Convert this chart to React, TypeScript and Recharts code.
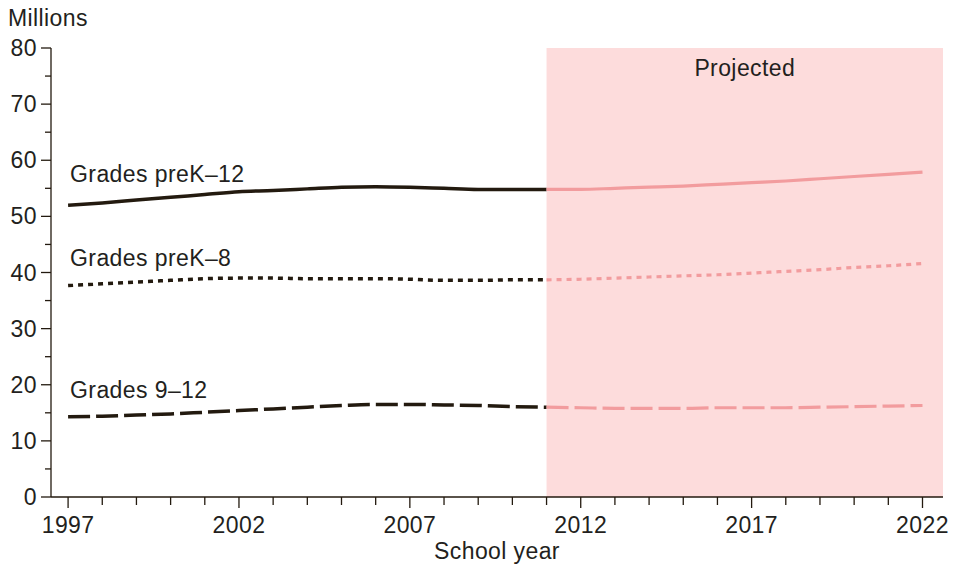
import {
  ComposedChart,
  Line,
  XAxis,
  YAxis,
  ReferenceArea,
  ReferenceDot,
} from 'recharts';

const YEARS = [
  1997, 1998, 1999, 2000, 2001, 2002, 2003, 2004, 2005, 2006, 2007, 2008, 2009,
  2010, 2011, 2012, 2013, 2014, 2015, 2016, 2017, 2018, 2019, 2020, 2021, 2022,
];
const PREK_12 = [
  52.0, 52.4, 52.9, 53.4, 53.9, 54.4, 54.6, 54.9, 55.2, 55.3, 55.2, 55.0, 54.8,
  54.8, 54.8, 54.8, 55.0, 55.2, 55.4, 55.7, 56.0, 56.3, 56.7, 57.1, 57.5, 57.9,
];
const PREK_8 = [
  37.7, 38.0, 38.3, 38.6, 38.9, 39.0, 39.0, 38.9, 38.9, 38.9, 38.8, 38.6, 38.6,
  38.7, 38.7, 38.8, 39.0, 39.2, 39.4, 39.6, 39.9, 40.2, 40.5, 40.9, 41.2, 41.6,
];
const GRADES_9_12 = [
  14.3, 14.4, 14.6, 14.8, 15.1, 15.4, 15.7, 16.0, 16.3, 16.5, 16.5, 16.4, 16.3,
  16.1, 16.0, 15.9, 15.8, 15.8, 15.8, 15.9, 15.9, 15.9, 16.0, 16.1, 16.2, 16.3,
];
const PROJECTION_START = 2011;
const X_DOMAIN = [1996.5, 2022.6];
const Y_TICKS = [0, 5, 10, 15, 20, 25, 30, 35, 40, 45, 50, 55, 60, 65, 70, 75, 80];

const DARK = '#231a0f';
const PINK = '#f29c9e';
const SHADE = '#fddcdc';
const TEXT = '#231f20';
const FS = 23;
const LS = 0.4;

const rows = YEARS.map((year, i) => ({
  year,
  k12: year <= PROJECTION_START ? PREK_12[i] : null,
  k12p: year >= PROJECTION_START ? PREK_12[i] : null,
  k8: year <= PROJECTION_START ? PREK_8[i] : null,
  k8p: year >= PROJECTION_START ? PREK_8[i] : null,
  hs: year <= PROJECTION_START ? GRADES_9_12[i] : null,
  hsp: year >= PROJECTION_START ? GRADES_9_12[i] : null,
}));

function YTick({ x, y, payload }: any) {
  const major = payload.value % 10 === 0;
  return (
    <g>
      <line x1={x} y1={y} x2={x - (major ? 10 : 6)} y2={y} stroke={DARK} strokeWidth={1.3} />
      {major && (
        <text x={x - 14} y={y} dy={8} textAnchor="end" fontSize={FS} letterSpacing={LS} fill={TEXT}>
          {payload.value}
        </text>
      )}
    </g>
  );
}

function XTick({ x, y, payload }: any) {
  const major = (payload.value - 1997) % 5 === 0;
  return (
    <g>
      <line x1={x} y1={y} x2={x} y2={y + (major ? 11 : 8)} stroke={DARK} strokeWidth={1.3} />
      {major && (
        <text x={x} y={y} dy={36} textAnchor="middle" fontSize={FS} letterSpacing={LS} fill={TEXT}>
          {payload.value}
        </text>
      )}
    </g>
  );
}

const seriesLabel = (value: string) => ({
  value,
  position: 'right' as const,
  offset: 2,
  fontSize: FS,
  letterSpacing: LS,
  fill: TEXT,
});

export default function App() {
  return (
    <div
      style={{
        position: 'relative',
        width: 954,
        height: 559,
        fontFamily: '"Liberation Sans", Arial, sans-serif',
        color: TEXT,
      }}
    >
      <span
        style={{
          position: 'absolute',
          left: 0,
          top: -3,
          zIndex: 1,
          fontSize: FS,
          letterSpacing: LS,
          lineHeight: '26px',
        }}
      >
        Millions
      </span>
      <ComposedChart
        width={954}
        height={559}
        data={rows}
        margin={{ top: 40, right: 19, left: 0, bottom: 2 }}
      >
        <ReferenceArea
          x1={PROJECTION_START}
          x2={X_DOMAIN[1]}
          y1={0}
          y2={80}
          fill={SHADE}
          fillOpacity={1}
          stroke="none"
          label={{ value: 'Projected', position: 'insideTop', offset: 12, fontSize: FS, letterSpacing: LS, fill: TEXT }}
        />
        <XAxis
          dataKey="year"
          type="number"
          domain={X_DOMAIN}
          allowDataOverflow
          ticks={YEARS}
          interval={0}
          height={68}
          tickSize={0}
          tickMargin={0}
          tickLine={false}
          tick={<XTick />}
          axisLine={{ stroke: DARK, strokeWidth: 1.3 }}
          label={{ value: 'School year', position: 'insideBottom', offset: 6, fontSize: FS, letterSpacing: LS, fill: TEXT }}
        />
        <YAxis
          type="number"
          domain={[0, 80]}
          ticks={Y_TICKS}
          interval={0}
          width={43}
          tickSize={0}
          tickMargin={0}
          tickLine={false}
          tick={<YTick />}
          axisLine={{ stroke: DARK, strokeWidth: 1.3 }}
        />
        <Line type="monotone" dataKey="k12" stroke={DARK} strokeWidth={3.5} dot={false} isAnimationActive={false} />
        <Line type="monotone" dataKey="k8" stroke={DARK} strokeWidth={3.5} strokeDasharray="5 5" dot={false} isAnimationActive={false} />
        <Line type="monotone" dataKey="hs" stroke={DARK} strokeWidth={3.5} strokeDasharray="22 6" dot={false} isAnimationActive={false} />
        <Line type="monotone" dataKey="k12p" stroke={PINK} strokeWidth={3.2} dot={false} isAnimationActive={false} />
        <Line type="monotone" dataKey="k8p" stroke={PINK} strokeWidth={3.2} strokeDasharray="5 5" dot={false} isAnimationActive={false} />
        <Line type="monotone" dataKey="hsp" stroke={PINK} strokeWidth={3.2} strokeDasharray="22 6" dot={false} isAnimationActive={false} />
        <ReferenceDot x={1997} y={57.6} r={0} fill="none" stroke="none" label={seriesLabel('Grades preK–12')} />
        <ReferenceDot x={1997} y={42.6} r={0} fill="none" stroke="none" label={seriesLabel('Grades preK–8')} />
        <ReferenceDot x={1997} y={19.1} r={0} fill="none" stroke="none" label={seriesLabel('Grades 9–12')} />
      </ComposedChart>
    </div>
  );
}
